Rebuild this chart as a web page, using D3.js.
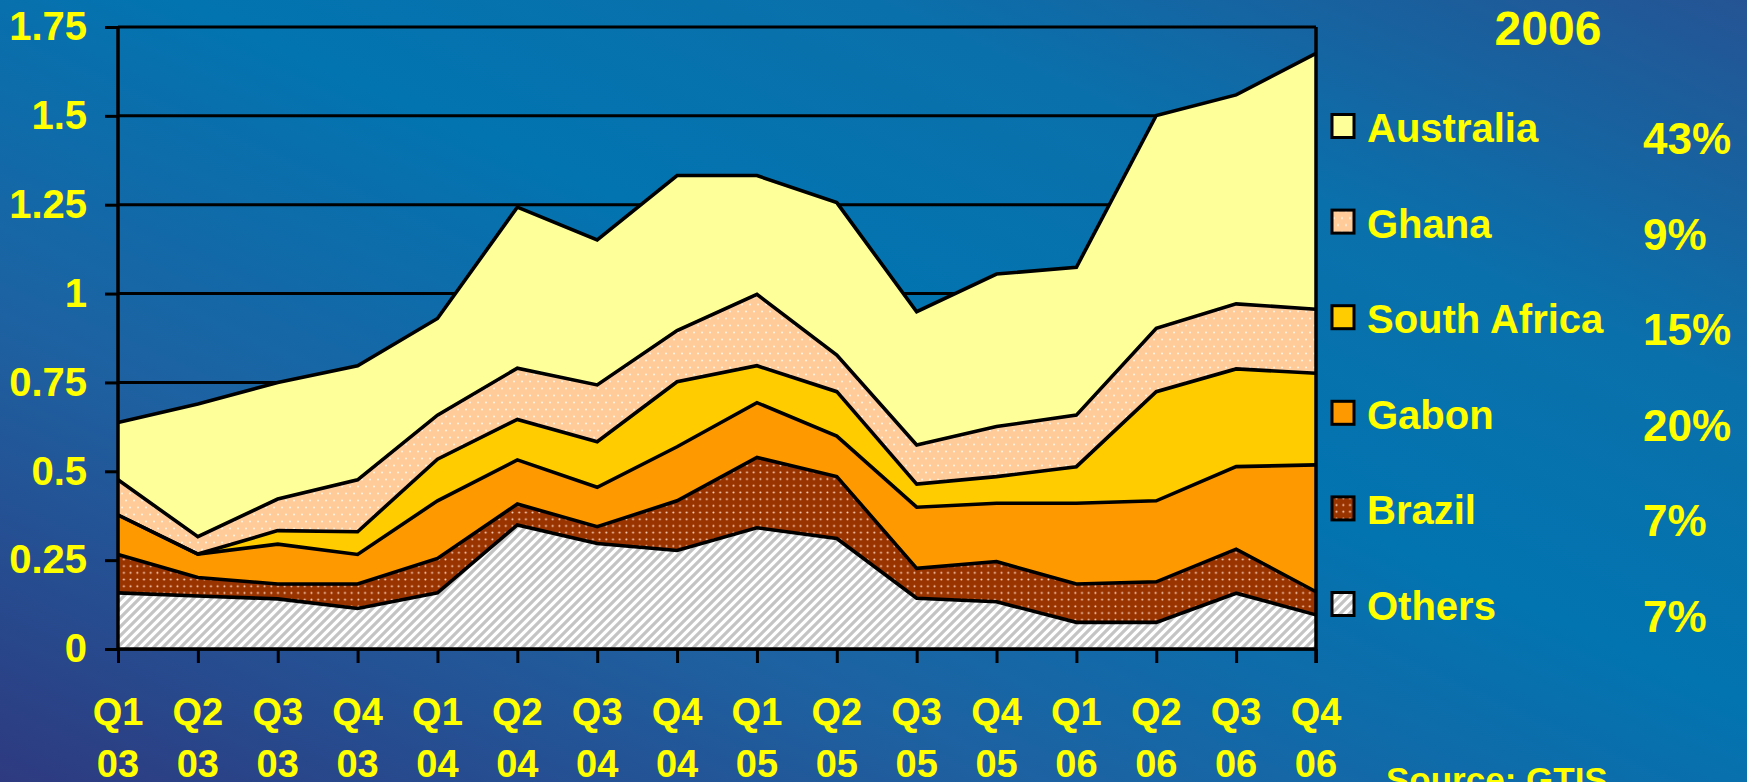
<html>
<head>
<meta charset="utf-8">
<script src="https://d3js.org/d3.v7.min.js"></script>
<style>
  body {margin: 0; overflow: hidden;}
  text {font-family: "Liberation Sans", Arial, sans-serif; font-weight: bold; fill: #ffff00;}
</style>
</head>
<body>
<svg width=1747 height=782></svg>
<script>
// quarter labels (two lines)
var quarterLabels = ["Q1","Q2","Q3","Q4","Q1","Q2","Q3","Q4","Q1","Q2","Q3","Q4","Q1","Q2","Q3","Q4"];
var yearLabels    = ["03","03","03","03","04","04","04","04","05","05","05","05","06","06","06","06"];

// series values, bottom of the stack first
var others      = [0.158,0.149,0.141,0.114,0.158,0.349,0.297,0.277,0.341,0.311,0.143,0.133,0.075,0.075,0.157,0.096];
var brazil      = [0.108,0.052,0.042,0.069,0.097,0.059,0.047,0.140,0.198,0.174,0.084,0.113,0.108,0.114,0.124,0.065];
var gabon       = [0.111,0.066,0.112,0.083,0.162,0.124,0.111,0.152,0.154,0.114,0.172,0.164,0.227,0.228,0.232,0.357];
var southAfrica = [0.000,0.000,0.038,0.064,0.117,0.114,0.128,0.183,0.104,0.125,0.065,0.075,0.103,0.307,0.275,0.258];
var ghana       = [0.099,0.049,0.089,0.146,0.124,0.144,0.160,0.144,0.201,0.103,0.110,0.141,0.145,0.178,0.183,0.180];
var australia   = [0.161,0.373,0.328,0.321,0.272,0.453,0.408,0.436,0.334,0.429,0.375,0.429,0.416,0.599,0.588,0.720];

var yTicks = [0, 0.25, 0.5, 0.75, 1, 1.25, 1.5, 1.75];
var yTickLabels = ["0","0.25","0.5","0.75","1","1.25","1.5","1.75"];

// legend, top to bottom
var legendNames = ["Australia","Ghana","South Africa","Gabon","Brazil","Others"];
var legendShares = ["43%","9%","15%","20%","7%","7%"];

var keys = ["others","brazil","gabon","southAfrica","ghana","australia"];
var fills = {
  others: "url(#hatch)",
  brazil: "url(#dotsBrown)",
  gabon: "#ff9900",
  southAfrica: "#ffcc00",
  ghana: "url(#dotsPeach)",
  australia: "#ffff99"
};
var legendKeys = ["australia","ghana","southAfrica","gabon","brazil","others"];

var table = quarterLabels.map(function(q, i) {
  return {i: i, others: others[i], brazil: brazil[i], gabon: gabon[i],
          southAfrica: southAfrica[i], ghana: ghana[i], australia: australia[i]};
});

var svg = d3.select("svg");
var defs = svg.append("defs");

// background gradient
var bg = defs.append("linearGradient").attr("id", "bg")
  .attr("x1", 0).attr("y1", 1).attr("x2", 1).attr("y2", 0);
bg.append("stop").attr("offset", 0).attr("stop-color", "#2e3a80");
bg.append("stop").attr("offset", 0.3).attr("stop-color", "#1d62a2");
bg.append("stop").attr("offset", 0.55).attr("stop-color", "#0274b0");
bg.append("stop").attr("offset", 0.75).attr("stop-color", "#0a70ab");
bg.append("stop").attr("offset", 1).attr("stop-color", "#255494");

// hatch for Others
var h = defs.append("pattern").attr("id", "hatch").attr("patternUnits", "userSpaceOnUse")
  .attr("width", 9).attr("height", 9);
h.append("rect").attr("width", 9).attr("height", 9).attr("fill", "#ffffff");
h.append("path").attr("d", "M0,9L9,0M-3,3L3,-3M6,12L12,6")
  .attr("stroke", "#c4c4c4").attr("stroke-width", 3.2);

// dotted brown for Brazil
var b = defs.append("pattern").attr("id", "dotsBrown").attr("patternUnits", "userSpaceOnUse")
  .attr("width", 6.7).attr("height", 6.7);
b.append("rect").attr("width", 6.7).attr("height", 6.7).attr("fill", "#993300");
b.append("circle").attr("cx", 3.3).attr("cy", 3.3).attr("r", 1).attr("fill", "#ffd8c0");

// dotted peach for Ghana
var p = defs.append("pattern").attr("id", "dotsPeach").attr("patternUnits", "userSpaceOnUse")
  .attr("width", 8).attr("height", 14);
p.append("rect").attr("width", 8).attr("height", 14).attr("fill", "#ffcc99");
p.append("circle").attr("cx", 2).attr("cy", 3.5).attr("r", 0.9).attr("fill", "#ffffff").attr("opacity", 0.85);
p.append("circle").attr("cx", 6).attr("cy", 10.5).attr("r", 0.9).attr("fill", "#ffffff").attr("opacity", 0.85);

svg.append("rect").attr("width", 1747).attr("height", 782).attr("fill", "url(#bg)");

var x = d3.scalePoint().domain(d3.range(quarterLabels.length)).range([118, 1316]);
var y = d3.scaleLinear().domain([0, 1.75]).range([649, 27]);

// gridlines
svg.append("g").selectAll("line").data(yTicks).enter().append("line")
  .attr("x1", x(0)).attr("x2", x(15))
  .attr("y1", function(d) { return y(d); }).attr("y2", function(d) { return y(d); })
  .attr("stroke", "black").attr("stroke-width", 3);

var series = d3.stack().keys(keys)(table);

var area = d3.area()
  .x(function(d) { return x(d.data.i); })
  .y0(function(d) { return y(d[0]); })
  .y1(function(d) { return y(d[1]); });

var topLine = d3.line()
  .x(function(d) { return x(d.data.i); })
  .y(function(d) { return y(d[1]); });

svg.append("g").selectAll("path").data(series).enter().append("path")
  .attr("d", area)
  .attr("fill", function(d) { return fills[d.key]; });

svg.append("g").selectAll("path").data(series).enter().append("path")
  .attr("d", topLine)
  .attr("fill", "none").attr("stroke", "black").attr("stroke-width", 3.6)
  .attr("stroke-linejoin", "miter");

// y axis
var yAxis = d3.axisLeft(y).tickValues(yTicks).tickSize(13).tickPadding(18)
  .tickFormat(function(d, i) { return yTickLabels[i]; });
var ya = svg.append("g").attr("transform", "translate(" + x(0) + ",0)").call(yAxis);
ya.select(".domain").attr("stroke", "black").attr("stroke-width", 3.5).attr("d", "M0," + y(0) + "V" + y(1.75));
ya.selectAll(".tick line").attr("stroke", "black").attr("stroke-width", 3);
ya.selectAll(".tick text").attr("fill", "#ffff00").style("font-size", "40px")
  .style("font-family", "'Liberation Sans', Arial, sans-serif").style("font-weight", "bold");

// x axis
var xAxis = d3.axisBottom(x).tickSize(14).tickFormat("");
var xa = svg.append("g").attr("transform", "translate(0," + y(0) + ")").call(xAxis);
xa.select(".domain").attr("stroke", "black").attr("stroke-width", 3.5).attr("d", "M" + x(0) + ",0H" + x(15));
xa.selectAll(".tick line").attr("stroke", "black").attr("stroke-width", 3);

// right border
svg.append("line").attr("x1", x(15)).attr("x2", x(15)).attr("y1", y(1.75)).attr("y2", y(0) + 14)
  .attr("stroke", "black").attr("stroke-width", 3.5);

var xl = svg.append("g").selectAll("text").data(quarterLabels).enter().append("text")
  .attr("text-anchor", "middle").style("font-size", "38px")
  .attr("x", function(d, i) { return x(i); });
xl.append("tspan").attr("x", function(d, i) { return x(i); }).attr("y", 725).text(function(d) { return d; });
xl.append("tspan").attr("x", function(d, i) { return x(i); }).attr("y", 777).text(function(d, i) { return yearLabels[i]; });

// legend
svg.append("text").attr("x", 1548).attr("y", 45).attr("text-anchor", "middle")
  .style("font-size", "48px").text("2006");

var lg = svg.append("g").selectAll("g").data(legendKeys).enter().append("g")
  .attr("transform", function(d, i) { return "translate(0," + (126 + i * 95.6) + ")"; });
lg.append("rect").attr("x", 1332).attr("y", -11.5).attr("width", 22).attr("height", 23)
  .attr("fill", function(d) { return fills[d]; })
  .attr("stroke", "black").attr("stroke-width", 3);
lg.append("text").attr("x", 1367).attr("y", 16).style("font-size", "40px")
  .text(function(d, i) { return legendNames[i]; });
lg.append("text").attr("x", 1643).attr("y", 28).style("font-size", "44px")
  .text(function(d, i) { return legendShares[i]; });

svg.append("text").attr("x", 1386).attr("y", 792).style("font-size", "35px").text("Source: GTIS");
</script>
</body>
</html>
